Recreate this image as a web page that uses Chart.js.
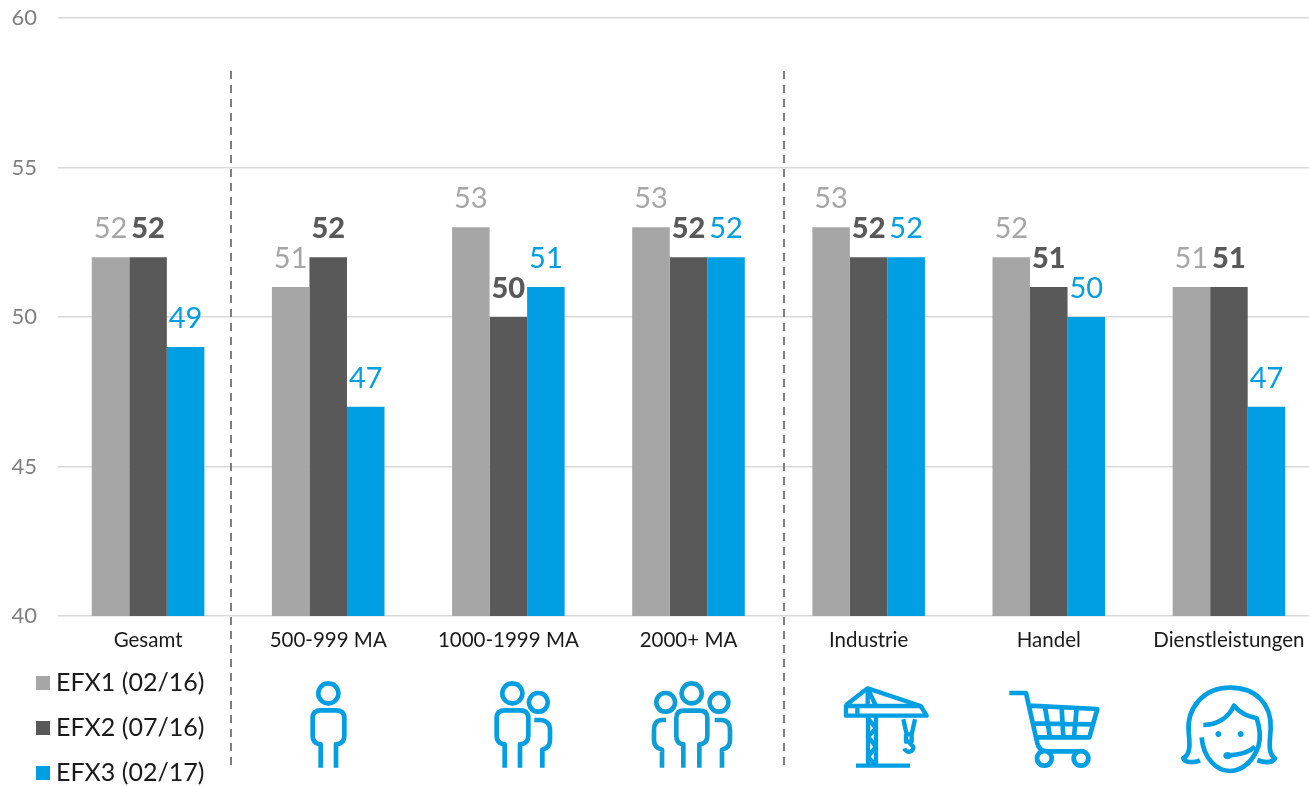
<!DOCTYPE html>
<html>
<head>
<meta charset="utf-8">
<title>EFX</title>
<script src="https://cdn.jsdelivr.net/npm/chart.js@4/dist/chart.umd.min.js"></script>
<style>
html,body{margin:0;padding:0;background:#fff;overflow:hidden;width:1309px;height:786px}
canvas{display:block}
</style>
</head>
<body>
<canvas id="chartBar" width="1319" height="786"></canvas>
<script>
var categories=["Gesamt","500-999 MA","1000-1999 MA","2000+ MA","Industrie","Handel","Dienstleistungen"];
var efx1=[52,51,53,53,53,52,51];
var efx2=[52,52,50,52,52,51,51];
var efx3=[49,47,51,52,52,50,47];
var seriesNames=["EFX1 (02/16)","EFX2 (07/16)","EFX3 (02/17)"];
var seriesColors=["#a6a6a6","#595959","#009fe3"];
var yTicks=[40,45,50,55,60];

var FONT="Lato";
var BLUE="#009fe3";

//ICONS UNDER THE AXIS, PATHS ARE IN 1/3 PIXEL UNITS
var person="M92 278 L92 208 L88 208 C75 205 68 195 68 182 L68 128 C68 113 78 106 92 106 L138 106 C153 106 163 113 163 128 L163 182 C163 195 155 205 142 208 L138 208 L138 278 M115 25 A30 30 0 1 0 115.01 25";
var icons=[
	{x:290,y:675,path:person},
	{x:474,y:675,path:person},
	{x:290,y:675,path:"M733 135 L750 135 C768 135 780 147 780 165 L780 195 C780 210 772 220 757 224 L757 278 M745 54 A28 28 0 1 0 745.01 54"},
	{x:640,y:675,color:"#0f9dd6",path:"M130 278 L130 208 L126 208 C115 205 109 195 109 182 L109 128 C109 113 118 107 132 107 L178 107 C192 107 202 113 202 128 L202 182 C202 195 195 205 182 208 L178 208 L178 278 M155 25 A30 30 0 1 0 155.01 25 M78 135 L65 135 C50 135 42 147 42 165 L42 195 C42 210 50 220 66 224 L66 278 M77 54 A28 28 0 1 0 77.01 54 M224 135 L245 135 C262 135 270 147 270 165 L270 195 C270 210 262 220 246 224 L246 278 M237 54 A28 28 0 1 0 237.01 54"},
	{x:640,y:675,stroke:13,path:"M648 272 L810 272 M684 120 L684 272 M708 120 L708 272 M684 130 L708 160 L684 185 L708 215 L684 245 L708 272 M618 88 L618 122 L860 122 L842 93 L618 93 M652 88 L652 122 M618 90 L683 40 L842 93 M683 40 L683 93 M683 40 L708 93 M790 133 L800 178 L815 178 L825 133 M798 178 L798 200 L815 200 L815 178 M806 200 L820 215 C822 232 798 236 793 220"},
	{x:1000,y:675,path:"M28 54 L78 54 L112 205 C116 220 125 229 140 229 L250 229 M88 92 L292 102 L268 187 L108 187 M98 145 L280 148 M135 96 L150 187 M185 99 L190 187 M230 100 L222 187 M133 228 A22 22 0 1 0 133.01 228 M243 228 A22 22 0 1 0 243.01 228"},
	{x:1000,y:675,path:"M600 256 C580 265 555 262 550 250 C575 235 568 200 566 170 C560 100 610 38 690 38 C770 38 815 90 812 160 C810 200 802 235 825 250 C815 265 790 262 772 256 M610 150 C650 150 685 130 702 92 C720 115 745 125 770 130 C782 165 782 190 775 215 M605 187 C610 250 650 288 690 288 C730 288 760 255 775 215 M683 242 C715 240 745 235 765 215"},
	{x:1000,y:675,fill:true,path:"M655 168 A9 9 0 1 0 655.01 168 M722 168 A9 9 0 1 0 722.01 168 M683 231 A13 11 0 1 0 683.01 231"}
];

//DRAW VALUE LABELS ABOVE EACH BAR
function drawValueLabels(chart){
	var ctx=chart.ctx;
	ctx.textAlign="center";
	ctx.textBaseline="alphabetic";
	chart.data.datasets.forEach(function(ds,i){
		ctx.font=(i===1?"900 ":"")+"29px "+FONT;
		ctx.fillStyle=ds.backgroundColor;
		chart.getDatasetMeta(i).data.forEach(function(bar,j){
			ctx.fillText(ds.data[j],bar.x,bar.y-19);
		});
	});
}

//DASHED SEPARATORS BETWEEN THE CATEGORY GROUPS
function drawSeparators(ctx){
	ctx.save();
	ctx.strokeStyle="#7f7f7f";
	ctx.lineWidth=2;
	ctx.setLineDash([8,6]);
	[231,784].forEach(function(x){
		ctx.beginPath();
		ctx.moveTo(x,71);
		ctx.lineTo(x,766);
		ctx.stroke();
	});
	ctx.restore();
}

//LEGEND AT THE BOTTOM LEFT
function drawLegend(chart){
	var ctx=chart.ctx;
	ctx.textAlign="left";
	ctx.textBaseline="middle";
	ctx.font="25px "+FONT;
	chart.data.datasets.forEach(function(ds,i){
		var y=683+45*i;
		ctx.fillStyle=ds.backgroundColor;
		ctx.fillRect(36,y-7,14,14);
		ctx.fillStyle="#1a1a1a";
		ctx.fillText(ds.label,56,y);
	});
}

function drawIcons(ctx){
	icons.forEach(function(icon){
		var p=new Path2D(icon.path);
		ctx.save();
		ctx.translate(icon.x,icon.y);
		ctx.scale(1/3,1/3);
		if(icon.fill){
			ctx.fillStyle=BLUE;
			ctx.fill(p);
		}else{
			ctx.strokeStyle=icon.color||BLUE;
			ctx.lineWidth=icon.stroke||14;
			ctx.lineJoin="round";
			ctx.lineCap="butt";
			ctx.stroke(p);
		}
		ctx.restore();
	});
}

var extras={
	id:"extras",
	afterDatasetsDraw:function(chart){
		drawValueLabels(chart);
		drawSeparators(chart.ctx);
		drawLegend(chart);
		drawIcons(chart.ctx);
	}
};

var barChart=new Chart(document.getElementById("chartBar"),{
	type:"bar",
	data:{
		labels:categories,
		datasets:[
			{label:seriesNames[0],data:efx1,backgroundColor:seriesColors[0]},
			{label:seriesNames[1],data:efx2,backgroundColor:seriesColors[1]},
			{label:seriesNames[2],data:efx3,backgroundColor:seriesColors[2]}
		]
	},
	options:{
		responsive:false,
		animation:false,
		categoryPercentage:0.625,
		barPercentage:1,
		layout:{padding:{top:18,right:0,bottom:0,left:0}},
		plugins:{legend:{display:false},tooltip:{enabled:false}},
		scales:{
			x:{
				grid:{display:false},
				border:{display:false},
				afterFit:function(scale){scale.height=170;},
				ticks:{color:"#1a1a1a",font:{family:FONT,size:20.5},padding:4,maxRotation:0,autoSkip:false}
			},
			y:{
				min:40,
				max:60,
				afterFit:function(scale){
					scale.width=58;
					scale.paddingTop=0;
					scale.paddingBottom=0;
				},
				afterBuildTicks:function(scale){
					scale.ticks=yTicks.map(function(v){return {value:v};});
				},
				grid:{color:"#d9d9d9",lineWidth:1.5,drawTicks:false},
				border:{display:false},
				ticks:{color:"#7f7f7f",font:{family:FONT,size:22},padding:21}
			}
		}
	},
	plugins:[extras]
});
</script>
</body>
</html>
